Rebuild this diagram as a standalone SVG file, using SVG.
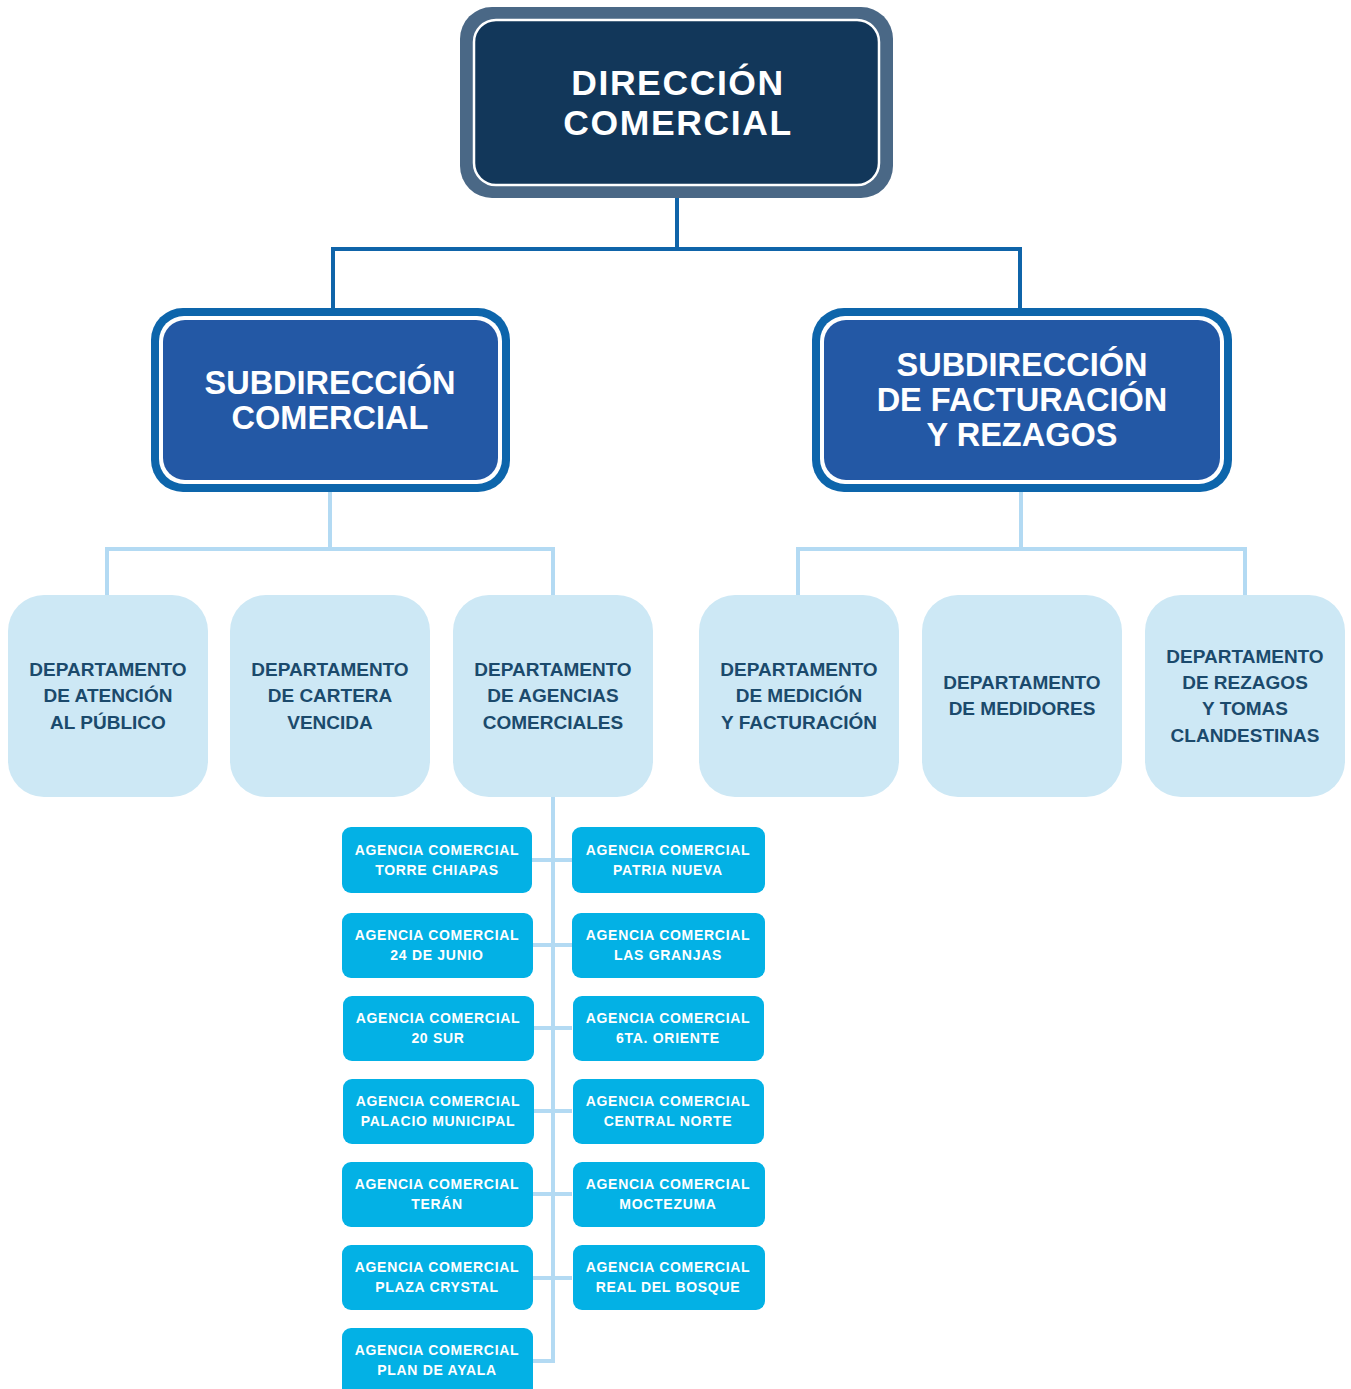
<svg xmlns="http://www.w3.org/2000/svg" width="1351" height="1389" viewBox="0 0 1351 1389">
<style>
.top{font-family:"Liberation Sans",Arial,sans-serif;font-weight:bold;fill:#fff;text-anchor:middle}
.dep{font-family:"Liberation Sans",Arial,sans-serif;font-weight:bold;font-size:19px;fill:#1b4a6c;text-anchor:middle}
.ag{font-family:"Liberation Sans",Arial,sans-serif;font-weight:bold;font-size:14px;letter-spacing:0.7px;fill:#fff;text-anchor:middle}
.dbox{fill:#cde8f5}
.abox{fill:#03b1e5}
.c1{fill:none;stroke:#0f64a9;stroke-width:4}
.c2{fill:none;stroke:#b3daf3;stroke-width:4}
</style>
<rect width="1351" height="1389" fill="#fff"/>
<g id="connectors">
<path class="c1" d="M677 196 V249 M333 310 V249 H1020 V310"/>
<path class="c2" d="M330 490 V549 M107 596 V549 H553 V596"/>
<path class="c2" d="M1021 490 V549 M798 596 V549 H1245 V596"/>
<path class="c2" d="M553 797 V1361 H532 M532 860 H572 M532 945 H572 M533 1028 H572 M533 1111 H572 M532 1194 H572 M532 1278 H572"/>
</g>
<g id="direccion">
<rect x="460" y="7" width="433" height="191" rx="32" fill="#4a6886"/>
<rect x="474" y="20" width="405" height="165" rx="22" fill="#12375a" stroke="#fff" stroke-width="2.5"/>
<text class="top" font-size="35.5" letter-spacing="1.6" x="678" y="95">DIRECCIÓN</text>
<text class="top" font-size="35.5" letter-spacing="1.6" x="678" y="135">COMERCIAL</text>
</g>
<g id="sub-comercial">
<rect x="151" y="308" width="359" height="184" rx="32" fill="#0d65ab"/>
<rect x="159" y="316" width="343" height="168" rx="25" fill="#fff"/>
<rect x="163" y="320" width="335" height="160" rx="22" fill="#2358a5"/>
<text class="top" font-size="32.5" x="330" y="394">SUBDIRECCIÓN</text>
<text class="top" font-size="32.5" x="330" y="429">COMERCIAL</text>
</g>
<g id="sub-facturacion">
<rect x="812" y="308" width="420" height="184" rx="32" fill="#0d65ab"/>
<rect x="820" y="316" width="404" height="168" rx="25" fill="#fff"/>
<rect x="824" y="320" width="396" height="160" rx="22" fill="#2358a5"/>
<text class="top" font-size="32.5" x="1022" y="376">SUBDIRECCIÓN</text>
<text class="top" font-size="32.5" x="1022" y="411">DE FACTURACIÓN</text>
<text class="top" font-size="32.5" x="1022" y="446">Y REZAGOS</text>
</g>
<g id="dep-atencion">
<rect class="dbox" x="8" y="595" width="200" height="202" rx="36"/>
<text class="dep" x="108" y="676">DEPARTAMENTO</text>
<text class="dep" x="108" y="702">DE ATENCIÓN</text>
<text class="dep" x="108" y="729">AL PÚBLICO</text>
</g>
<g id="dep-cartera">
<rect class="dbox" x="230" y="595" width="200" height="202" rx="36"/>
<text class="dep" x="330" y="676">DEPARTAMENTO</text>
<text class="dep" x="330" y="702">DE CARTERA</text>
<text class="dep" x="330" y="729">VENCIDA</text>
</g>
<g id="dep-agencias">
<rect class="dbox" x="453" y="595" width="200" height="202" rx="36"/>
<text class="dep" x="553" y="676">DEPARTAMENTO</text>
<text class="dep" x="553" y="702">DE AGENCIAS</text>
<text class="dep" x="553" y="729">COMERCIALES</text>
</g>
<g id="dep-medicion">
<rect class="dbox" x="699" y="595" width="200" height="202" rx="36"/>
<text class="dep" x="799" y="676">DEPARTAMENTO</text>
<text class="dep" x="799" y="702">DE MEDICIÓN</text>
<text class="dep" x="799" y="729">Y FACTURACIÓN</text>
</g>
<g id="dep-medidores">
<rect class="dbox" x="922" y="595" width="200" height="202" rx="36"/>
<text class="dep" x="1022" y="689">DEPARTAMENTO</text>
<text class="dep" x="1022" y="715">DE MEDIDORES</text>
</g>
<g id="dep-rezagos">
<rect class="dbox" x="1145" y="595" width="200" height="202" rx="36"/>
<text class="dep" x="1245" y="663">DEPARTAMENTO</text>
<text class="dep" x="1245" y="689">DE REZAGOS</text>
<text class="dep" x="1245" y="715">Y TOMAS</text>
<text class="dep" x="1245" y="742">CLANDESTINAS</text>
</g>
<g id="ag-torre-chiapas">
<rect class="abox" x="342" y="827" width="190" height="66" rx="9"/>
<text class="ag" x="437" y="855">AGENCIA COMERCIAL</text>
<text class="ag" x="437" y="875">TORRE CHIAPAS</text>
</g>
<g id="ag-patria-nueva">
<rect class="abox" x="572" y="827" width="193" height="66" rx="9"/>
<text class="ag" x="668" y="855">AGENCIA COMERCIAL</text>
<text class="ag" x="668" y="875">PATRIA NUEVA</text>
</g>
<g id="ag-24-junio">
<rect class="abox" x="342" y="913" width="191" height="65" rx="9"/>
<text class="ag" x="437" y="940">AGENCIA COMERCIAL</text>
<text class="ag" x="437" y="960">24 DE JUNIO</text>
</g>
<g id="ag-las-granjas">
<rect class="abox" x="572" y="913" width="193" height="65" rx="9"/>
<text class="ag" x="668" y="940">AGENCIA COMERCIAL</text>
<text class="ag" x="668" y="960">LAS GRANJAS</text>
</g>
<g id="ag-20-sur">
<rect class="abox" x="343" y="996" width="191" height="65" rx="9"/>
<text class="ag" x="438" y="1023">AGENCIA COMERCIAL</text>
<text class="ag" x="438" y="1043">20 SUR</text>
</g>
<g id="ag-6ta-oriente">
<rect class="abox" x="573" y="996" width="191" height="65" rx="9"/>
<text class="ag" x="668" y="1023">AGENCIA COMERCIAL</text>
<text class="ag" x="668" y="1043">6TA. ORIENTE</text>
</g>
<g id="ag-palacio-municipal">
<rect class="abox" x="343" y="1079" width="191" height="65" rx="9"/>
<text class="ag" x="438" y="1106">AGENCIA COMERCIAL</text>
<text class="ag" x="438" y="1126">PALACIO MUNICIPAL</text>
</g>
<g id="ag-central-norte">
<rect class="abox" x="573" y="1079" width="191" height="65" rx="9"/>
<text class="ag" x="668" y="1106">AGENCIA COMERCIAL</text>
<text class="ag" x="668" y="1126">CENTRAL NORTE</text>
</g>
<g id="ag-teran">
<rect class="abox" x="342" y="1162" width="191" height="65" rx="9"/>
<text class="ag" x="437" y="1189">AGENCIA COMERCIAL</text>
<text class="ag" x="437" y="1209">TERÁN</text>
</g>
<g id="ag-moctezuma">
<rect class="abox" x="573" y="1162" width="192" height="65" rx="9"/>
<text class="ag" x="668" y="1189">AGENCIA COMERCIAL</text>
<text class="ag" x="668" y="1209">MOCTEZUMA</text>
</g>
<g id="ag-plaza-crystal">
<rect class="abox" x="342" y="1245" width="191" height="65" rx="9"/>
<text class="ag" x="437" y="1272">AGENCIA COMERCIAL</text>
<text class="ag" x="437" y="1292">PLAZA CRYSTAL</text>
</g>
<g id="ag-real-del-bosque">
<rect class="abox" x="573" y="1245" width="192" height="65" rx="9"/>
<text class="ag" x="668" y="1272">AGENCIA COMERCIAL</text>
<text class="ag" x="668" y="1292">REAL DEL BOSQUE</text>
</g>
<g id="ag-plan-de-ayala">
<rect class="abox" x="342" y="1328" width="191" height="70" rx="9"/>
<text class="ag" x="437" y="1355">AGENCIA COMERCIAL</text>
<text class="ag" x="437" y="1375">PLAN DE AYALA</text>
</g>
</svg>
